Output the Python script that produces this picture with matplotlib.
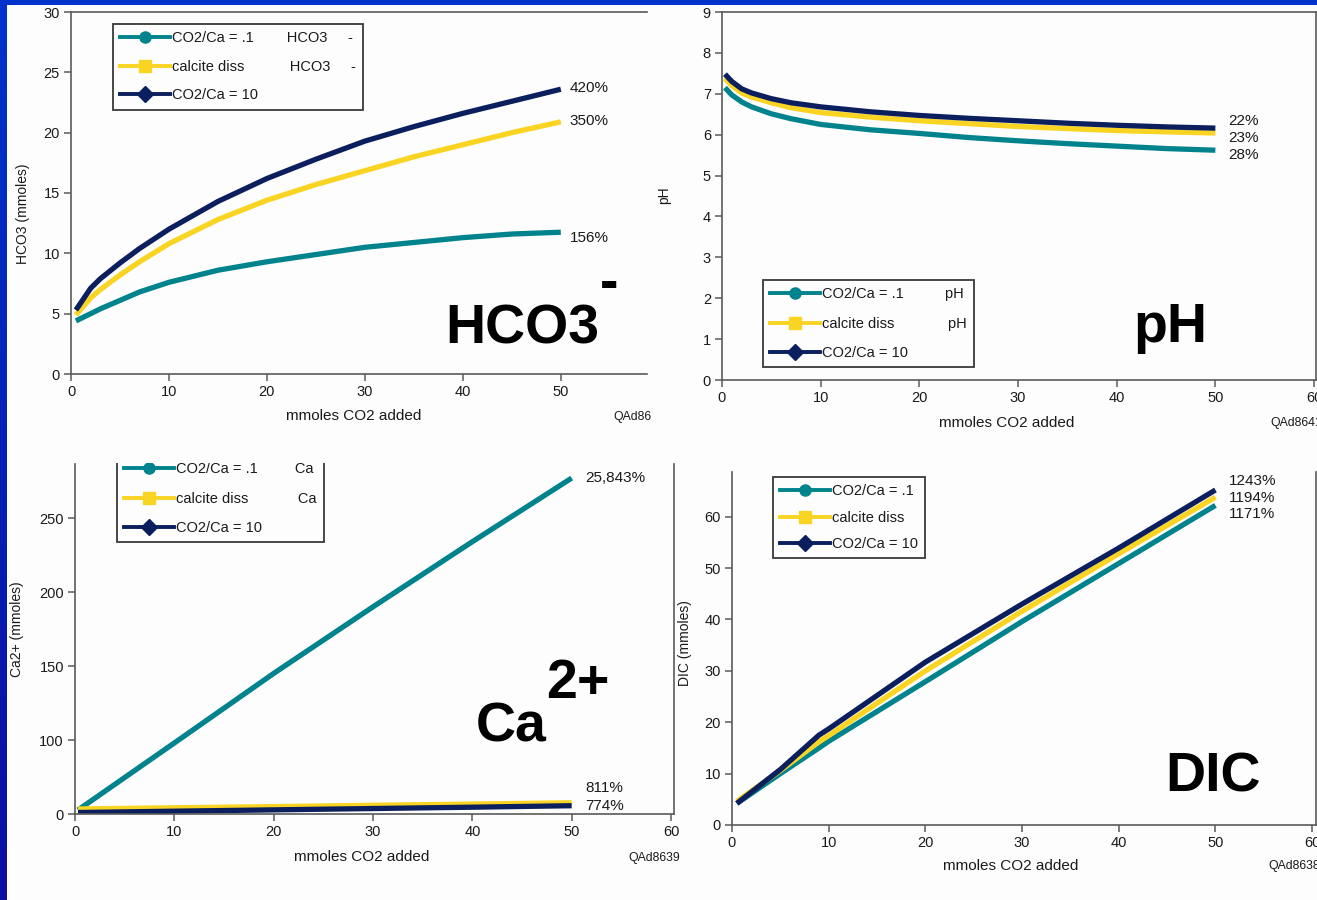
import numpy as np
import matplotlib
matplotlib.use("Agg")
import matplotlib.pyplot as plt
from matplotlib.lines import Line2D
from matplotlib.patches import Rectangle
from matplotlib.colors import LinearSegmentedColormap

plt.rcParams['font.family'] = ['Liberation Sans', 'DejaVu Sans']

# ---------------- data ----------------
series_names = ["CO2/Ca = .1", "calcite diss", "CO2/Ca = 10"]
colors = ["#00838c", "#f9d423", "#0b1f5e"]
markers = ["o", "s", "D"]

# HCO3 panel
hco3_x = [0.5, 2, 3, 5, 7, 10, 15, 20, 25, 30, 35, 40, 45, 50]
hco3_teal = [4.4, 5.0, 5.4, 6.1, 6.8, 7.6, 8.6, 9.3, 9.9, 10.5, 10.9, 11.3, 11.6, 11.75]
hco3_yellow = [4.9, 6.3, 7.0, 8.2, 9.3, 10.8, 12.8, 14.4, 15.7, 16.85, 18.0, 19.0, 20.0, 20.9]
hco3_navy = [5.3, 7.1, 7.9, 9.2, 10.4, 12.0, 14.3, 16.2, 17.8, 19.3, 20.5, 21.6, 22.6, 23.6]
hco3_pct = ["420%", "350%", "156%"]
hco3_pct_y = [23.7, 21.0, 11.3]

# pH panel
ph_x = [0.3, 1, 2, 3, 5, 7, 10, 15, 20, 25, 30, 35, 40, 45, 50]
ph_teal = [7.15, 6.97, 6.8, 6.68, 6.51, 6.39, 6.25, 6.12, 6.03, 5.93, 5.85, 5.78, 5.72, 5.66, 5.62]
ph_yellow = [7.38, 7.2, 7.02, 6.92, 6.78, 6.66, 6.54, 6.43, 6.34, 6.27, 6.2, 6.15, 6.1, 6.07, 6.04]
ph_navy = [7.48, 7.3, 7.12, 7.02, 6.88, 6.78, 6.68, 6.56, 6.47, 6.4, 6.34, 6.28, 6.23, 6.19, 6.16]
ph_pct = ["22%", "23%", "28%"]
ph_pct_y = [6.33, 5.92, 5.5]

# Ca panel (axis units as drawn)
ca_x = [0.3, 10, 20, 30, 40, 50]
ca_teal = [2.7, 48, 95, 140, 184, 227]
ca_yellow = [3.4, 4.2, 5.0, 5.9, 6.7, 7.6]
ca_navy = [1.0, 1.9, 2.8, 3.7, 4.6, 5.6]
ca_ytick_pos = [0, 50, 100, 150, 200]
ca_ytick_labels = ["0", "100", "150", "200", "250"]
ca_pct = ["25,843%", "811%", "774%"]
ca_pct_y = [227, 17.6, 5.4]

# DIC panel
dic_x = [0.5, 5, 9, 10, 20, 30, 40, 50]
dic_teal = [4.2, 10.0, 15.0, 16.3, 27.9, 39.6, 50.9, 62.2]
dic_yellow = [4.6, 10.6, 16.2, 17.4, 30.0, 41.6, 52.8, 63.8]
dic_navy = [4.2, 10.8, 17.5, 18.7, 31.7, 43.0, 53.9, 65.2]
dic_pct = ["1243%", "1194%", "1171%"]
dic_pct_y = [66.9, 63.6, 60.5]

# ---------------- figure ----------------
W, H = 1317, 900
fig = plt.figure(figsize=(W / 100, H / 100), dpi=100)
fig.patch.set_facecolor("#fdfdfd")

def rect(x0, y0, x1, y1):
    return [x0 / W, 1 - y1 / H, (x1 - x0) / W, (y1 - y0) / H]

def fx(x):
    return x / W

def fy(y):
    return 1 - y / H

# blue frame strips
grad_ax = fig.add_axes(rect(0, 0, 7, 900))
grad = np.linspace(0, 1, 256).reshape(-1, 1)
cm = LinearSegmentedColormap.from_list("b", ["#0033cc", "#0a0f9e"])
grad_ax.imshow(grad, aspect="auto", cmap=cm)
grad_ax.axis("off")
fig.patches.append(Rectangle((0, fy(5)), 1, 5 / H, transform=fig.transFigure,
                             facecolor="#0033cc", edgecolor="none", zorder=0))

SPINE = "#5a5a5a"
LW = 3.8
TXT = "#1a1a1a"

def style_axes(ax, top=False, right=False):
    ax.set_facecolor("#fdfdfd")
    for s in ["left", "bottom", "top", "right"]:
        ax.spines[s].set_color(SPINE)
        ax.spines[s].set_linewidth(1.2)
    ax.spines["top"].set_visible(top)
    ax.spines["right"].set_visible(right)
    ax.tick_params(direction="out", length=5, width=1.1, color=SPINE,
                   labelsize=10.5, labelcolor=TXT, pad=3)

def make_legend(ax, labels, x, y, spacing):
    handles = [Line2D([], [], color=c, lw=2.8, marker=m, markersize=8,
                      markerfacecolor=c, markeredgecolor=c)
               for c, m in zip(colors, markers)]
    leg = ax.legend(handles, labels, loc="upper left",
                    bbox_to_anchor=(fx(x), fy(y)), bbox_transform=fig.transFigure,
                    borderaxespad=0, fontsize=10.5, handlelength=3.4,
                    handletextpad=0.15, labelspacing=spacing, fancybox=False,
                    frameon=True, borderpad=0.5)
    fr = leg.get_frame()
    fr.set_edgecolor("#3a3a3a")
    fr.set_linewidth(1.3)
    fr.set_facecolor("#fdfdfd")
    fr.set_alpha(1)
    leg.set_zorder(5)
    for t in leg.get_texts():
        t.set_color(TXT)
    return leg

def plot_series(ax, x, ys):
    for y, c in zip(ys, colors):
        ax.plot(x, y, color=c, lw=LW, solid_capstyle="butt", solid_joinstyle="round")

def xlabel(x, y, s):
    fig.text(fx(x), fy(y), s, ha="center", va="center", fontsize=11, color=TXT)

def ylabel(x, y, s):
    fig.text(fx(x), fy(y), s, ha="center", va="center", fontsize=10, rotation=90, color=TXT)

def code(x, y, s):
    fig.text(fx(x), fy(y), s, ha="left", va="center", fontsize=8.8, color=TXT)

def big(x, y, s):
    fig.text(fx(x), fy(y), s, ha="left", va="baseline", fontsize=40, fontweight="bold", color="black")

def pct(ax, xpos, labels, ys):
    for t, yy in zip(labels, ys):
        ax.text(xpos, yy, t, fontsize=11, va="center", ha="left", color=TXT)

# ---------------- HCO3 ----------------
ax1 = fig.add_axes(rect(71, 12, 647, 374))
style_axes(ax1, top=True)
plot_series(ax1, hco3_x, [hco3_teal, hco3_yellow, hco3_navy])
ax1.set_xlim(0, 58.8)
ax1.set_ylim(0, 30)
ax1.set_xticks([0, 10, 20, 30, 40, 50])
ax1.set_yticks([0, 5, 10, 15, 20, 25, 30])
pct(ax1, 50.9, hco3_pct, hco3_pct_y)
make_legend(ax1, ["CO2/Ca = .1        HCO3     -", "calcite diss           HCO3     -",
                  "CO2/Ca = 10"], 113, 24, 1.0)
xlabel(354, 416, "mmoles CO2 added")
ylabel(23, 214, "HCO3 (mmoles)")
code(613, 417, "QAd86")
big(445, 343, "HCO3")
big(600, 299, "-")

# ---------------- pH ----------------
ax2 = fig.add_axes(rect(722, 12, 1316, 380))
style_axes(ax2, top=True, right=True)
plot_series(ax2, ph_x, [ph_teal, ph_yellow, ph_navy])
ax2.set_xlim(0, 60.2)
ax2.set_ylim(0, 9)
ax2.set_xticks([0, 10, 20, 30, 40, 50, 60])
ax2.set_yticks(range(0, 10))
pct(ax2, 51.3, ph_pct, ph_pct_y)
make_legend(ax2, ["CO2/Ca = .1          pH", "calcite diss             pH", "CO2/Ca = 10"],
            763, 280, 1.05)
xlabel(1007, 423, "mmoles CO2 added")
ylabel(664, 195, "pH")
code(1270, 423, "QAd8641")
big(1133, 342, "pH")

# ---------------- Ca ----------------
ax3 = fig.add_axes(rect(75, 464, 674, 814))
style_axes(ax3, right=True)
plot_series(ax3, ca_x, [ca_teal, ca_yellow, ca_navy])
ax3.set_xlim(0, 60.3)
ax3.set_ylim(0, 236.5)
ax3.set_xticks([0, 10, 20, 30, 40, 50, 60])
ax3.set_yticks(ca_ytick_pos)
ax3.set_yticklabels(ca_ytick_labels)
pct(ax3, 51.4, ca_pct, ca_pct_y)
make_legend(ax3, ["CO2/Ca = .1         Ca", "calcite diss            Ca", "CO2/Ca = 10"],
            117, 455, 1.05)
# crop the legend top like in the reference
fig.patches.append(Rectangle((fx(90), fy(463)), fx(300), 25 / H, transform=fig.transFigure,
                             facecolor="#fdfdfd", edgecolor="none", zorder=10))
xlabel(362, 857, "mmoles CO2 added")
ylabel(17, 629, "Ca2+ (mmoles)")
code(628, 858, "QAd8639")
big(476, 741, "Ca")
big(546, 698, "2+")

# ---------------- DIC ----------------
ax4 = fig.add_axes(rect(732, 472, 1316, 825))
style_axes(ax4, right=True)
plot_series(ax4, dic_x, [dic_teal, dic_yellow, dic_navy])
ax4.set_xlim(0, 60.4)
ax4.set_ylim(0, 68.7)
ax4.set_xticks([0, 10, 20, 30, 40, 50, 60])
ax4.set_yticks([0, 10, 20, 30, 40, 50, 60])
pct(ax4, 51.4, dic_pct, dic_pct_y)
make_legend(ax4, series_names, 773, 477, 0.85)
xlabel(1011, 866, "mmoles CO2 added")
ylabel(685, 643, "DIC (mmoles)")
code(1268, 866, "QAd8638")
big(1165, 792, "DIC")

fig.savefig("out.png", dpi=100, facecolor=fig.get_facecolor())
